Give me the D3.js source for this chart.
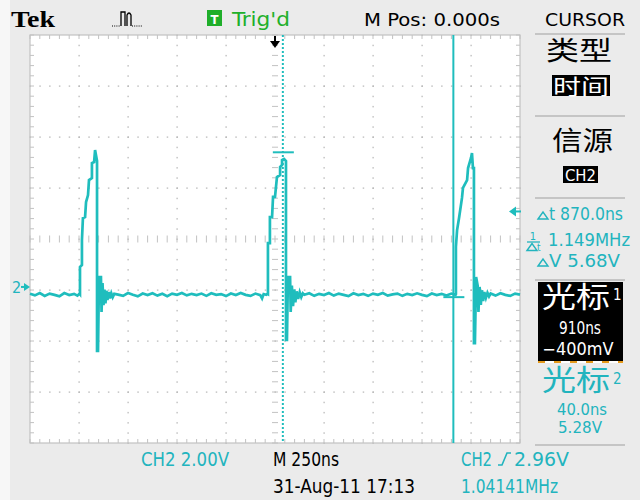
<!DOCTYPE html>
<html><head><meta charset="utf-8">
<script src="https://cdn.jsdelivr.net/npm/d3@7"></script>
<style>html,body{margin:0;padding:0;background:#ebebeb;} svg{display:block}</style>
</head><body><svg id="c" width="640" height="500"></svg>
<script>
// ---------------- DATA ----------------
const timeDomain = [-1250, 1250];   // ns, 10 div x 250 ns
const voltDomain = [-6.12, 9.88];   // V, 8 div x 2.00 V (CH2 ground offset)
const cursor1 = {t: 910, v: -0.40};
const cursor2 = {t: 40, v: 5.28};
const triggerLevel = 2.96;
const groundLevel = 0;

const base0 = [[-1250,-0.27],[-1225,-0.33],[-1200,-0.24],[-1175,-0.35],[-1150,-0.26],[-1125,-0.31],[-1100,-0.37],[-1075,-0.24],[-1050,-0.32],[-1025,-0.27],[-1008,-0.34],[-997,-0.26]];
const pulse1 = [[-995,-0.28],[-995,0.78],[-985,0.86],[-985,1.84],[-980,2.70],[-969,2.74],[-964,3.33],[-954,3.60],[-949,4.19],[-934,4.27],[-934,4.86],[-923,4.90],[-918,5.37],[-908,4.94],[-908,-2.51],[-903,-2.51],[-898,0.39],[-888,0.39],[-885,-0.98],[-880,0.15],[-875,-0.71],[-870,-0.10],[-865,-0.65],[-860,-0.15],[-855,-0.51],[-848,-0.20],[-842,-0.45],[-835,-0.25],[-828,-0.40],[-820,-0.27]];
const base1 = [[-800,-0.30],[-775,-0.35],[-750,-0.24],[-725,-0.31],[-700,-0.37],[-675,-0.26],[-650,-0.32],[-625,-0.25],[-600,-0.34],[-575,-0.27],[-550,-0.36],[-525,-0.26],[-500,-0.31],[-475,-0.24],[-450,-0.33],[-425,-0.27],[-400,-0.32],[-375,-0.26],[-350,-0.35],[-325,-0.25],[-300,-0.31],[-275,-0.28],[-250,-0.36],[-225,-0.26],[-200,-0.32],[-175,-0.24],[-150,-0.31],[-125,-0.35],[-100,-0.26],[-75,-0.32],[-66,-0.45],[-58,-0.28],[-45,-0.31],[-38,-0.27]];
const pulse2 = [[-36,-0.28],[-36,1.72],[-26,1.72],[-26,2.74],[-15,2.74],[-10,3.53],[0,3.53],[10,4.31],[26,4.39],[26,4.70],[36,4.78],[36,4.98],[46,5.02],[56,4.94],[56,-2.08],[61,-2.08],[66,0.39],[77,0.39],[80,-0.98],[86,0.05],[92,-0.75],[98,-0.10],[104,-0.60],[110,-0.17],[118,-0.47],[126,-0.21],[134,-0.40],[142,-0.25]];
const base2 = [[150,-0.31],[175,-0.25],[200,-0.35],[225,-0.27],[250,-0.32],[275,-0.24],[300,-0.34],[325,-0.26],[350,-0.31],[375,-0.36],[400,-0.25],[425,-0.32],[450,-0.27],[475,-0.35],[500,-0.26],[525,-0.31],[550,-0.24],[575,-0.34],[600,-0.29],[625,-0.26],[650,-0.35],[675,-0.27],[700,-0.32],[725,-0.25],[750,-0.31],[775,-0.36],[800,-0.26],[825,-0.32],[850,-0.27],[875,-0.34],[900,-0.26],[921,-0.31]];
const pulse3 = [[923,-0.28],[923,1.57],[929,2.23],[939,2.70],[954,3.49],[959,3.88],[980,4.19],[985,4.66],[1000,5.06],[1005,5.25],[1010,4.66],[1015,4.66],[1015,-2.20],[1020,-2.20],[1026,0.39],[1034,0.05],[1038,-0.98],[1044,0.00],[1050,-0.70],[1056,-0.13],[1062,-0.55],[1068,-0.20],[1076,-0.43],[1084,-0.23],[1092,-0.37]];
const base3 = [[1100,-0.26],[1125,-0.34],[1150,-0.25],[1175,-0.31],[1200,-0.35],[1225,-0.26],[1250,-0.30]];

const headerLabels = ["Tek", "Trig'd", "M Pos: 0.000s", "CURSOR"];
const panelLabels = ["类型", "时间", "信源", "CH2", "870.0ns", "1.149MHz", "5.68V", "光标", "910ns", "\u2212400mV", "光标", "40.0ns", "5.28V"];
const footerLabels = ["CH2  2.00V", "M 250ns", "CH2", "2.96V", "31-Aug-11 17:13", "1.04141MHz"];

// ---------------- DRAW ----------------
const svg = d3.select("#c");
const CY = "#1fbdbd", CYT = "#22b4be", GR = "#c2c2c2";
const FN = '"Liberation Sans Narrow","DejaVu Sans Condensed","Liberation Sans",sans-serif';
const CJK = '"Noto Sans CJK SC",sans-serif';

const L = 30, R = 520, T = 35, B = 443;
const x = d3.scaleLinear().domain(timeDomain).range([L, R]);
const y = d3.scaleLinear().domain(voltDomain).range([B, T]);
const gx = d3.scaleLinear().domain([0, 10]).range([L, R]);
const gy = d3.scaleLinear().domain([0, 8]).range([T, B]);

svg.append("rect").attr("width", 640).attr("height", 500).attr("fill", "#ebebeb");
svg.append("rect").attr("width", 10).attr("height", 500).attr("fill", "#f7f7f7");
svg.append("rect").attr("x", L).attr("y", T).attr("width", R - L).attr("height", B - T).attr("fill", "#ffffff");

const g = svg.append("g");
const minorX = d3.range(0, 50.5, 1).map(d => d / 5);
const minorY = d3.range(0, 40.5, 1).map(d => d / 5);
// dotted major grid
for (let i = 1; i < 10; i++) {
  if (i === 5) continue;
  g.selectAll(null).data(minorY).enter().append("rect")
    .attr("x", gx(i) - 0.5).attr("y", d => gy(d) - 0.5).attr("width", 1.2).attr("height", 1.5).attr("fill", "#b5b5b5");
}
for (let j = 1; j < 8; j++) {
  if (j === 4) continue;
  g.selectAll(null).data(minorX).enter().append("rect")
    .attr("x", d => gx(d) - 0.5).attr("y", gy(j) - 0.5).attr("width", 1.5).attr("height", 1.2).attr("fill", "#b5b5b5");
}
// center axes ticks
g.selectAll(null).data(minorY).enter().append("line")
  .attr("x1", gx(5) - 3).attr("x2", gx(5) + 3).attr("y1", d => gy(d)).attr("y2", d => gy(d)).attr("stroke", GR).attr("stroke-width", 1);
g.selectAll(null).data(minorX).enter().append("line")
  .attr("y1", gy(4) - 3.5).attr("y2", gy(4) + 3.5).attr("x1", d => gx(d)).attr("x2", d => gx(d)).attr("stroke", GR).attr("stroke-width", 1);
// border + inward ticks
g.append("rect").attr("x", L).attr("y", T).attr("width", R - L).attr("height", B - T).attr("fill", "none").attr("stroke", GR).attr("stroke-width", 1.2);
g.selectAll(null).data(minorX).enter().append("line")
  .attr("x1", d => gx(d)).attr("x2", d => gx(d)).attr("y1", T).attr("y2", T + 4).attr("stroke", GR);
g.selectAll(null).data(minorX).enter().append("line")
  .attr("x1", d => gx(d)).attr("x2", d => gx(d)).attr("y1", B).attr("y2", B - 4).attr("stroke", GR);
g.selectAll(null).data(minorY).enter().append("line")
  .attr("y1", d => gy(d)).attr("y2", d => gy(d)).attr("x1", L).attr("x2", L + 4).attr("stroke", GR);
g.selectAll(null).data(minorY).enter().append("line")
  .attr("y1", d => gy(d)).attr("y2", d => gy(d)).attr("x1", R).attr("x2", R - 4).attr("stroke", GR);

// cursors
svg.append("line").attr("x1", x(cursor2.t)).attr("x2", x(cursor2.t)).attr("y1", T).attr("y2", B)
  .attr("stroke", CY).attr("stroke-width", 2).attr("stroke-dasharray", "2,2");
svg.append("line").attr("x1", x(cursor1.t)).attr("x2", x(cursor1.t)).attr("y1", T).attr("y2", B)
  .attr("stroke", CY).attr("stroke-width", 2);

// trace
const trace = [].concat(base0, pulse1, base1, pulse2, base2, pulse3, base3);
const line = d3.line().x(d => x(d[0])).y(d => y(d[1]));
svg.append("path").attr("d", line(trace)).attr("fill", "none").attr("stroke", CY).attr("stroke-width", 2.7).attr("stroke-linejoin", "miter");

// cursor crossing markers
[cursor2, cursor1].forEach(c => {
  svg.append("line").attr("x1", x(c.t) - 10).attr("x2", x(c.t) + 11).attr("y1", y(c.v)).attr("y2", y(c.v))
    .attr("stroke", CY).attr("stroke-width", 2);
});

// trigger position marker (top)
const tx = x(0);
svg.append("rect").attr("x", tx - 1).attr("y", T + 1).attr("width", 2).attr("height", 6).attr("fill", "#000");
svg.append("path").attr("d", `M${tx - 5},${T + 6} L${tx + 5},${T + 6} L${tx},${T + 13} Z`).attr("fill", "#000");

// trigger level marker (right)
const ty = y(triggerLevel);
svg.append("path").attr("d", `M${R - 11},${ty} L${R - 4},${ty - 5} L${R - 4},${ty + 5} Z`).attr("fill", CY);
svg.append("rect").attr("x", R - 5).attr("y", ty - 1).attr("width", 6).attr("height", 2).attr("fill", CY);

// ground marker (left)
const gyy = y(groundLevel);
svg.append("text").attr("x", 12).attr("y", gyy + 6).text("2").attr("font-family", FN).attr("font-size", 16).attr("fill", CYT);
svg.append("path").attr("d", `M${L},${gyy} L${L - 6},${gyy - 4} L${L - 6},${gyy + 4} Z`).attr("fill", CY);
svg.append("rect").attr("x", 21).attr("y", gyy - 1).attr("width", 4).attr("height", 2).attr("fill", CY);

// text helper
function txt(s, xx, yy, o = {}) {
  const t = svg.append("text").attr("x", xx).attr("y", yy).text(s)
    .attr("font-family", o.ff || FN).attr("font-size", o.fs || 17).attr("fill", o.fill || "#000")
    .attr("font-weight", o.fw || "normal");
  if (o.w) t.attr("textLength", o.w).attr("lengthAdjust", "spacingAndGlyphs");
  if (o.anchor) t.attr("text-anchor", o.anchor);
  return t;
}

// header
txt(headerLabels[0], 11, 27, {ff: '"Liberation Serif",serif', fs: 24, fw: "bold", w: 44});
// acquisition icon
svg.append("path").attr("d", "M121,26 V12 H125 V26 M127,26 V15 Q129,11 131,15 V26").attr("fill", "none").attr("stroke", "#000").attr("stroke-width", 1.3);
svg.append("line").attr("x1", 112).attr("x2", 120).attr("y1", 26).attr("y2", 26).attr("stroke", "#000").attr("stroke-dasharray", "1,1.2");
svg.append("line").attr("x1", 132).attr("x2", 142).attr("y1", 26).attr("y2", 26).attr("stroke", "#000").attr("stroke-dasharray", "1,1.2");
svg.append("rect").attr("x", 207).attr("y", 10).attr("width", 15).attr("height", 16).attr("fill", "#1fae2a");
txt("T", 214.5, 24, {fs: 13, fill: "#fff", anchor: "middle", fw: "bold"});
txt(headerLabels[1], 232, 26, {fs: 19, fill: "#21b02a", w: 58});
txt(headerLabels[2], 364, 26, {fs: 18, w: 136});
txt(headerLabels[3], 545, 26, {fs: 18, w: 80});

// right panel separators
[34, 116, 198, 280, 445].forEach(sy => {
  svg.append("line").attr("x1", 535).attr("x2", 625).attr("y1", sy).attr("y2", sy).attr("stroke", "#b8b8b8").attr("stroke-width", 1.5);
});

txt(panelLabels[0], 546, 60, {ff: CJK, fs: 26, w: 66});
svg.append("rect").attr("x", 552).attr("y", 75).attr("width", 58).attr("height", 21).attr("fill", "#000");
txt(panelLabels[1], 553, 93.5, {ff: CJK, fs: 21, fill: "#fff", w: 56});
txt(panelLabels[2], 552, 150, {ff: CJK, fs: 26, w: 61});
svg.append("rect").attr("x", 563).attr("y", 166).attr("width", 35).attr("height", 17).attr("fill", "#000");
txt(panelLabels[3], 565, 181, {fs: 15, fill: "#fff", w: 31});

// delta readouts
function tri(xx, yy) { // small delta glyph
  svg.append("path").attr("d", `M${xx},${yy} L${xx + 5},${yy - 7} L${xx + 10},${yy} Z`).attr("fill", "none").attr("stroke", CYT).attr("stroke-width", 1.4);
}
tri(538, 219); txt("t " + panelLabels[4], 549, 220, {fs: 17, fill: CYT, w: 74});
txt("1", 533, 240, {fs: 11, fill: CYT, anchor: "middle"});
svg.append("line").attr("x1", 527).attr("x2", 540).attr("y1", 242).attr("y2", 242).attr("stroke", CYT).attr("stroke-width", 1.3);
tri(527, 250.5); txt("t", 537, 250.5, {fs: 10, fill: CYT});
txt(panelLabels[5], 548, 246, {fs: 17, fill: CYT, w: 82});
tri(538, 266); txt("V " + panelLabels[6], 549, 267, {fs: 17, fill: CYT, w: 71});

// cursor 1 box
svg.append("rect").attr("x", 538).attr("y", 282).attr("width", 85).attr("height", 80).attr("fill", "#000");
txt(panelLabels[7], 542, 308, {ff: CJK, fs: 29, fill: "#fff", w: 68});
txt("1", 613, 300, {fs: 15, fill: "#fff"});
txt(panelLabels[8], 580, 334, {fs: 17, fill: "#fff", anchor: "middle", w: 42});
txt(panelLabels[9], 578, 355, {fs: 17, fill: "#fff", anchor: "middle", w: 71});
svg.append("line").attr("x1", 538).attr("x2", 623).attr("y1", 362).attr("y2", 362).attr("stroke", "#e59a1c").attr("stroke-width", 2).attr("stroke-dasharray", "7,9");
svg.append("line").attr("x1", 545).attr("x2", 623).attr("y1", 362).attr("y2", 362).attr("stroke", "#ffffff").attr("stroke-width", 2).attr("stroke-dasharray", "9,7");

// cursor 2
txt(panelLabels[10], 542, 391, {ff: CJK, fs: 29, fill: CYT, w: 68});
txt("2", 613, 384, {fs: 15, fill: CYT});
txt(panelLabels[11], 582, 415, {fs: 15, fill: CYT, anchor: "middle", w: 50});
txt(panelLabels[12], 580, 433, {fs: 15, fill: CYT, anchor: "middle", w: 44});

// footer
txt(footerLabels[0], 141, 466, {fs: 19, fill: CYT, w: 88});
txt(footerLabels[1], 273, 466, {fs: 19, w: 66});
txt(footerLabels[2], 461, 466, {fs: 19, fill: CYT, w: 31});
svg.append("path").attr("d", "M498,465 H502 L507,453 H511").attr("fill", "none").attr("stroke", CYT).attr("stroke-width", 1.6);
txt(footerLabels[3], 514, 466, {fs: 19, fill: CYT, w: 55});
txt(footerLabels[4], 273, 493, {fs: 19, w: 142});
txt(footerLabels[5], 461, 493, {fs: 19, fill: CYT, w: 97});
</script></body></html>
